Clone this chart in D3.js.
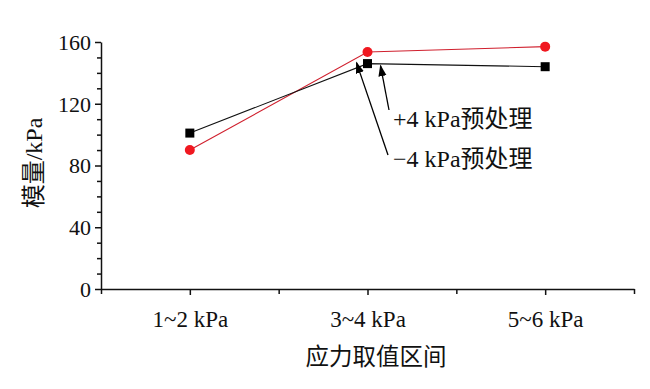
<!DOCTYPE html>
<html lang="zh">
<head>
<meta charset="UTF-8">
<title>模量与应力取值区间</title>
<script src="https://d3js.org/d3.v7.min.js"></script>
<style>
  body { margin: 0; background: #fff; }
  text { font-family: "Liberation Serif", "Noto Sans CJK SC", serif; fill: #111; }
</style>
</head>
<body>
<svg width="650" height="389"></svg>
<script>
// data
const categories = ["1~2 kPa", "3~4 kPa", "5~6 kPa"];
const plusFour  = [101, 146, 144];   // +4 kPa预处理, black squares
const minusFour = [90, 153.5, 157];  // −4 kPa预处理, red circles
const yTicks = [0, 40, 80, 120, 160];

const svg = d3.select("svg");

const x = d3.scaleLinear().domain([0.5, 3.5]).range([101, 634]);
const y = d3.scaleLinear().domain([0, 160]).range([289, 42]);

// y axis: major + minor ticks
const yMinor = d3.range(0, 161, 10).filter(v => v % 40 !== 0);
svg.append("g")
   .attr("transform", "translate(101,0)")
   .call(d3.axisLeft(y).tickValues(yMinor).tickSize(4).tickFormat(""))
   .call(g => g.select(".domain").remove());
svg.append("g")
   .attr("transform", "translate(101,0)")
   .call(d3.axisLeft(y).tickValues(yTicks).tickSize(6).tickPadding(4).tickSizeOuter(0))
   .call(g => g.selectAll("text").style("font-size", "22px").attr("dy", "0.34em"));

// x axis
const xMinor = [0.5, 1.5, 2.5, 3.5];
svg.append("g")
   .attr("transform", "translate(0,289)")
   .call(d3.axisBottom(x).tickValues(xMinor).tickSize(5).tickFormat(""))
   .call(g => g.select(".domain").remove());
svg.append("g")
   .attr("transform", "translate(0,289)")
   .call(d3.axisBottom(x).tickValues([1, 2, 3]).tickSize(6).tickSizeOuter(0)
          .tickFormat((d, i) => categories[i]).tickPadding(16))
   .call(g => g.selectAll("text").style("font-size", "23px"));

svg.selectAll(".domain, .tick line").attr("stroke", "#111").attr("stroke-width", 1.5);

// axis titles
svg.append("text")
   .attr("transform", "translate(34,163) rotate(-90)")
   .attr("text-anchor", "middle")
   .attr("dy", "0.35em")
   .style("font-size", "24px")
   .text("模量/kPa");
svg.append("text")
   .attr("x", 376).attr("y", 365)
   .attr("text-anchor", "middle")
   .style("font-size", "23.5px")
   .text("应力取值区间");

const line = d3.line().x((d, i) => x(i + 1)).y(d => y(d));

// red series
svg.append("path").datum(minusFour)
   .attr("d", line).attr("fill", "none")
   .attr("stroke", "#d0202e").attr("stroke-width", 1.1);
// black series
svg.append("path").datum(plusFour)
   .attr("d", line).attr("fill", "none")
   .attr("stroke", "#111").attr("stroke-width", 1.1);

svg.selectAll(".circ").data(minusFour).enter()
   .append("circle")
   .attr("cx", (d, i) => x(i + 1)).attr("cy", d => y(d))
   .attr("r", 5).attr("fill", "#f01820");

svg.selectAll(".sq").data(plusFour).enter()
   .append("rect")
   .attr("x", (d, i) => x(i + 1) - 4.5).attr("y", d => y(d) - 4.5)
   .attr("width", 9).attr("height", 9).attr("fill", "#000");

// annotations with arrows
svg.append("defs").append("marker")
   .attr("id", "arr").attr("viewBox", "0 0 10 10")
   .attr("refX", 9).attr("refY", 5)
   .attr("markerWidth", 9).attr("markerHeight", 9)
   .attr("orient", "auto")
   .append("path").attr("d", "M0,1.5 L10,5 L0,8.5 Z").attr("fill", "#000");

const notes = [
  { text: "+4 kPa预处理", tx: 393, ty: 127, from: [389, 110], to: [x(2) + 13, y(plusFour[1]) + 2] },
  { text: "−4 kPa预处理", tx: 393, ty: 167, from: [388, 155], to: [x(2) - 11, y(plusFour[1]) - 1] }
];
notes.forEach(n => {
  svg.append("line")
     .attr("x1", n.from[0]).attr("y1", n.from[1])
     .attr("x2", n.to[0]).attr("y2", n.to[1])
     .attr("stroke", "#000").attr("stroke-width", 1.3)
     .attr("marker-end", "url(#arr)");
  svg.append("text")
     .attr("x", n.tx).attr("y", n.ty)
     .style("font-size", "24px")
     .text(n.text);
});
</script>
</body>
</html>
